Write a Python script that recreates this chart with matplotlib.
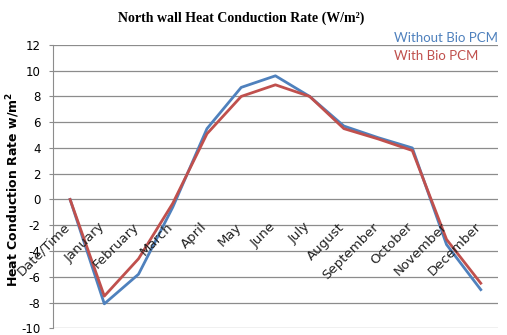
import matplotlib.pyplot as plt

months = ['Date/Time', 'January', 'February', 'March', 'April', 'May', 'June',
          'July', 'August', 'September', 'October', 'November', 'December']
without_pcm = [0, -8.1, -5.8, -0.6, 5.5, 8.7, 9.6, 8.0, 5.7, 4.8, 4.0, -3.5, -7.0]
with_pcm = [0, -7.5, -4.6, -0.3, 5.1, 8.0, 8.9, 8.0, 5.5, 4.7, 3.8, -3.1, -6.5]
yticks = list(range(-10, 13, 2))

fig = plt.figure(figsize=(5.07, 3.35), dpi=100)
ax = fig.add_axes([0.1045, 0.02, 0.8775, 0.846])

x = list(range(len(months)))
ax.plot(x, without_pcm, color='#4F81BD', lw=2.0, label='Without Bio PCM')
ax.plot(x, with_pcm, color='#C0504D', lw=2.0, label='With Bio PCM')

ax.set_xlim(-0.5, len(months) - 0.5)
ax.set_ylim(-10, 12)
ax.set_yticks(yticks)
ax.set_yticklabels([str(v) for v in yticks], fontsize=8.5)
ax.yaxis.grid(True, color='#8c8c8c', lw=0.9)
ax.set_axisbelow(True)
ax.set_xticks([])
for s in ['top', 'right', 'bottom']:
    ax.spines[s].set_visible(False)
ax.spines['left'].set_color('#8c8c8c')
ax.tick_params(axis='y', length=3, color='#8c8c8c', pad=6)

# category labels sit under the zero line, like Excel does it
for i, m in enumerate(months):
    ax.annotate(m, (i, 0), xytext=(2, -15), textcoords='offset points',
                rotation=45, ha='right', va='top', fontsize=9.5, color='#222222')

fig.text(0.475, 0.945, 'North wall Heat Conduction Rate (W/m²)',
         ha='center', va='center', fontsize=10, fontweight='bold',
         family='Liberation Serif')
fig.text(0.026, 0.436, 'Heat Conduction Rate w/m$^\\mathbf{2}$', rotation=90,
         ha='center', va='center', fontsize=9, fontweight='bold')

leg = ax.legend(loc='upper right', bbox_to_anchor=(0.996, 0.925),
                bbox_transform=fig.transFigure, frameon=False, handlelength=0,
                handletextpad=0, labelcolor='linecolor',
                prop={'family': 'Lato', 'size': 9.5},
                labelspacing=0.45, borderpad=0)

fig.savefig('out.png', dpi=100)
